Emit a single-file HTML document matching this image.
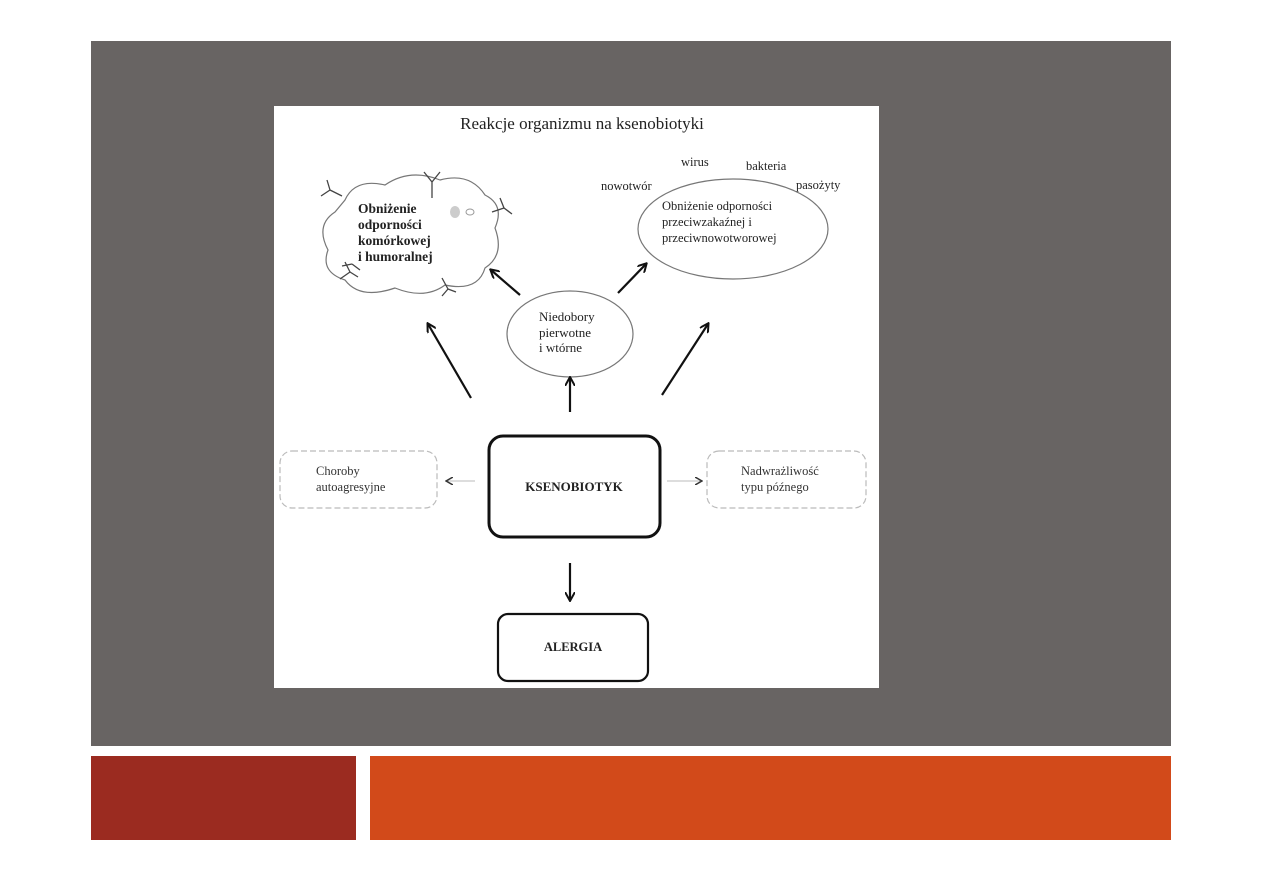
<!DOCTYPE html>
<html><head><meta charset="utf-8"><style>
html,body{margin:0;padding:0;background:#fff;width:1263px;height:893px;overflow:hidden}
</style></head><body>
<svg width="1263" height="893" viewBox="0 0 1263 893" xmlns="http://www.w3.org/2000/svg" font-family="Liberation Serif, serif">
<defs>
<marker id="a" markerWidth="10" markerHeight="10" refX="8" refY="5" orient="auto" markerUnits="userSpaceOnUse"><path d="M0,0 L9,5 L0,10" fill="none" stroke="#111" stroke-width="2"/></marker>
<marker id="b" markerWidth="8" markerHeight="8" refX="6" refY="4" orient="auto" markerUnits="userSpaceOnUse"><path d="M0,0 L7,4 L0,8" fill="none" stroke="#333" stroke-width="1.5"/></marker>
</defs>
<rect x="91" y="41" width="1080" height="705" fill="#686463"/>
<rect x="91" y="756" width="265" height="84" fill="#9b2b20"/>
<rect x="370" y="756" width="801" height="84" fill="#d24a1a"/>
<rect x="274" y="106" width="605" height="582" fill="#fff"/>
<text x="582" y="129" font-size="17" text-anchor="middle" fill="#222">Reakcje organizmu na ksenobiotyki</text>
<!-- cloud -->
<path d="M345,200 Q355,178 385,185 Q410,168 440,180 Q470,172 485,195 Q505,205 495,228 Q505,255 485,268 Q478,292 445,285 Q425,300 395,288 Q360,300 345,280 Q320,272 328,250 Q315,225 335,212 Z" fill="#fff" stroke="#777" stroke-width="1.2"/>
<g stroke="#444" stroke-width="1.3" fill="none">
<path d="M432,198 V182 M432,182 L424,172 M432,182 L440,172"/>
<path d="M342,196 L330,190 M330,190 L321,196 M330,190 L327,180"/>
<path d="M492,212 L504,208 M504,208 L512,214 M504,208 L500,198"/>
<path d="M340,279 L350,272 M350,272 L345,262 M350,272 L358,277"/>
<path d="M442,278 L448,289 M448,289 L442,296 M448,289 L456,292"/>
<path d="M360,270 L352,264 M352,264 L342,266"/>
</g>
<ellipse cx="455" cy="212" rx="5" ry="6" fill="#ccc"/><ellipse cx="470" cy="212" rx="4" ry="3" fill="none" stroke="#999"/>
<g font-size="13.5" fill="#222" font-weight="bold">
<text x="358" y="213">Obniżenie</text><text x="358" y="229">odporności</text><text x="358" y="245">komórkowej</text><text x="358" y="261">i humoralnej</text>
</g>
<ellipse cx="733" cy="229" rx="95" ry="50" fill="#fff" stroke="#777" stroke-width="1.2"/>
<g font-size="12.5" fill="#222">
<text x="681" y="166">wirus</text><text x="746" y="170">bakteria</text><text x="601" y="190">nowotwór</text><text x="796" y="189">pasożyty</text>
<text x="662" y="210">Obniżenie odporności</text><text x="662" y="226">przeciwzakaźnej i</text><text x="662" y="242">przeciwnowotworowej</text>
</g>
<ellipse cx="570" cy="334" rx="63" ry="43" fill="#fff" stroke="#777" stroke-width="1.2"/>
<g font-size="13" fill="#222"><text x="539" y="321">Niedobory</text><text x="539" y="337">pierwotne</text><text x="539" y="352">i wtórne</text></g>
<g stroke="#111" stroke-width="2.2" fill="none" marker-end="url(#a)">
<line x1="471" y1="398" x2="428" y2="324"/>
<line x1="520" y1="295" x2="491" y2="270"/>
<line x1="618" y1="293" x2="646" y2="264"/>
<line x1="662" y1="395" x2="708" y2="324"/>
<line x1="570" y1="412" x2="570" y2="378"/>
<line x1="570" y1="563" x2="570" y2="600"/>
</g>
<rect x="489" y="436" width="171" height="101" rx="14" fill="#fff" stroke="#111" stroke-width="3"/>
<text x="574" y="491" font-size="13" font-weight="bold" text-anchor="middle" fill="#222">KSENOBIOTYK</text>
<rect x="498" y="614" width="150" height="67" rx="10" fill="#fff" stroke="#111" stroke-width="2.2"/>
<text x="573" y="651" font-size="12.5" font-weight="bold" text-anchor="middle" fill="#222">ALERGIA</text>
<rect x="280" y="451" width="157" height="57" rx="12" fill="#fff" stroke="#bbb" stroke-width="1.2" stroke-dasharray="6,3"/>
<text x="316" y="475" font-size="12.5" fill="#333">Choroby</text><text x="316" y="491" font-size="12.5" fill="#333">autoagresyjne</text>
<rect x="707" y="451" width="159" height="57" rx="12" fill="#fff" stroke="#bbb" stroke-width="1.2" stroke-dasharray="6,3"/>
<text x="741" y="475" font-size="12.5" fill="#333">Nadwrażliwość</text><text x="741" y="491" font-size="12.5" fill="#333">typu późnego</text>
<line x1="475" y1="481" x2="447" y2="481" stroke="#bbb" stroke-width="1" marker-end="url(#b)"/>
<line x1="667" y1="481" x2="701" y2="481" stroke="#bbb" stroke-width="1" marker-end="url(#b)"/>
</svg>
</body></html>
